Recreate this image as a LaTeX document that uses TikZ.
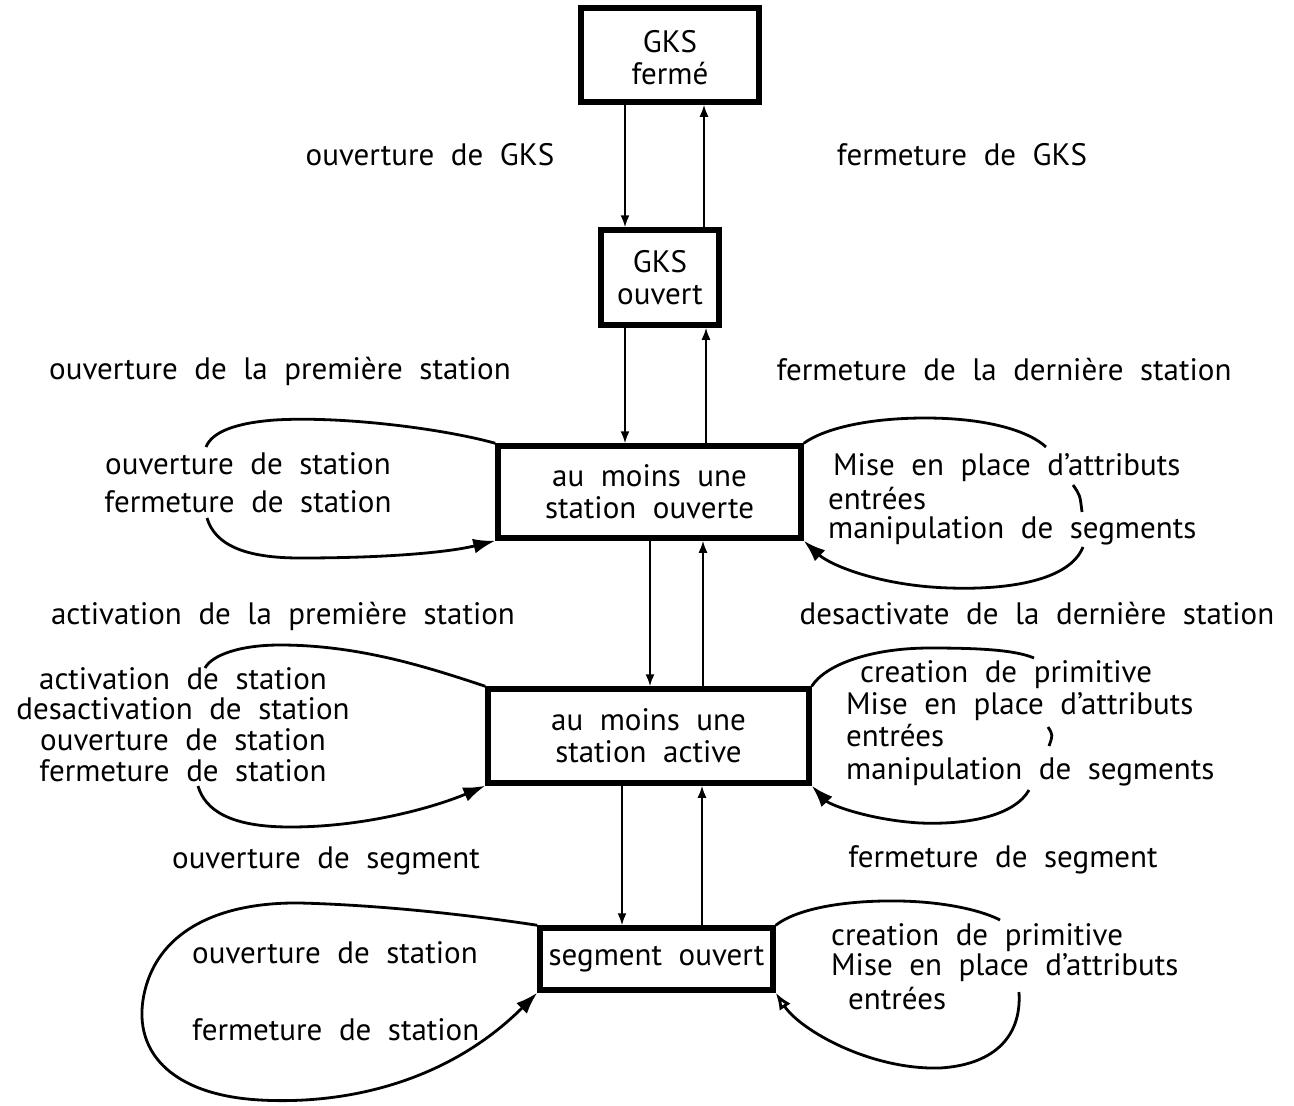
\documentclass[tikz,border=0pt]{standalone}
\usepackage{fontspec}
\setmainfont{PT Sans}[WordSpace=2.0]
\usetikzlibrary{arrows.meta}
\begin{document}
\begin{tikzpicture}[x=1pt,y=-1pt,
  lbl/.style={font=\fontsize{31}{31}\selectfont, inner sep=0pt},
  state/.style={draw, line width=5.5pt, inner sep=0pt, align=center, font=\fontsize{31}{32}\selectfont},
  tr/.style={line width=1.8pt, -{Latex[length=12pt,width=9pt]}},
  lp/.style={line width=2.8pt},
  lpa/.style={line width=2.8pt, -{Latex[length=22pt,width=15pt]}},
  lpo/.style={line width=2.8pt, -{Latex[open,length=17pt,width=13pt]}}]
\useasboundingbox (0,0) rectangle (1294,1106);

% states
\node[state, minimum width=178pt, minimum height=94pt] (b1) at (670,55) {\raisebox{-7pt}[\height][\depth]{\begin{tabular}{@{}c@{}}GKS\\ferm\'e\end{tabular}}};
\node[state, minimum width=118pt, minimum height=95pt] (b2) at (660,277.5) {GKS\\ouvert};
\node[state, minimum width=303pt, minimum height=92pt] (b3) at (649.5,492) {au moins une\\station ouverte};
\node[state, minimum width=321pt, minimum height=94pt] (b4) at (648.5,736) {au moins une\\station active};
\node[state, minimum width=233pt, minimum height=62pt] (b5) at (656.5,959) {segment ouvert};

% columns for vertical connectors
\coordinate (cA) at (625,0);
\coordinate (cB) at (704,0);
\coordinate (cC) at (625,0);
\coordinate (cD) at (706,0);
\coordinate (cE) at (650,0);
\coordinate (cF) at (703,0);
\coordinate (cG) at (622,0);
\coordinate (cH) at (702,0);

\draw[tr] (b1.south -| cA) -- (b2.north -| cA);
\draw[tr] (b2.north -| cB) -- (b1.south -| cB);
\draw[tr] (b2.south -| cC) -- (b3.north -| cC);
\draw[tr] (b3.north -| cD) -- (b2.south -| cD);
\draw[tr] (b3.south -| cE) -- (b4.north -| cE);
\draw[tr] (b4.north -| cF) -- (b3.south -| cF);
\draw[tr] (b4.south -| cG) -- (b5.north -| cG);
\draw[tr] (b5.north -| cH) -- (b4.south -| cH);

% transition labels
\node[lbl] (l1) at (430,155) {ouverture de GKS};
\node[lbl] (l2) at (962,155) {fermeture de GKS};
\node[lbl] (l3) at (280,371) {ouverture de la premi\`ere station};
\node[lbl] (l4) at (1004,370) {fermeture de la derni\`ere station};
\node[lbl] (l5) at (283,616) {activation de la premi\`ere station};
\node[lbl] (l6) at (1037,614) {desactivate de la derni\`ere station};
\node[lbl] (l7) at (326,861) {ouverture de segment};
\node[lbl] (l8) at (1003,860) {fermeture de segment};

% loop texts box3
\node[lbl] (a1) at (248,464) {ouverture de station};
\node[lbl] (a2) at (248,502) {fermeture de station};
\node[lbl, anchor=west] (a3) at (833,468) {Mise en place d'attributs};
\node[lbl, anchor=west] (a4) at (828,499) {entr\'ees};
\node[lbl, anchor=west] (a5) at (828,531) {manipulation de segments};

% loop texts box4
\node[lbl] (c1) at (183,679) {activation de station};
\node[lbl] (c2) at (183,709) {desactivation de station};
\node[lbl] (c3) at (183,740) {ouverture de station};
\node[lbl] (c4) at (183,771) {fermeture de station};
\node[lbl, anchor=west] (c5) at (860,675) {creation de primitive};
\node[lbl, anchor=west] (c6) at (846,707) {Mise en place d'attributs};
\node[lbl, anchor=west] (c7) at (846,736) {entr\'ees};
\node[lbl, anchor=west] (c8) at (846,772) {manipulation de segments};

% loop texts box5
\node[lbl, anchor=west] (e1) at (192,953) {ouverture de station};
\node[lbl, anchor=west] (e2) at (192,1030) {fermeture de station};
\node[lbl, anchor=west] (e3) at (831,938) {creation de primitive};
\node[lbl, anchor=west] (e4) at (831,968) {Mise en place d'attributs};
\node[lbl, anchor=west] (e5) at (848,999) {entr\'ees};

% loops box3
\draw[lp] (b3.north west) .. controls (440,428) and (340,416) .. (275,420) .. controls (235,423) and (212,432) .. (206,447);
\draw[lpa] (207,518) .. controls (215,545) and (245,558) .. (300,558) .. controls (390,558) and (450,552) .. (b3.south west);
\draw[lp] (b3.north east) .. controls (825,428) and (870,418) .. (925,418) .. controls (990,418) and (1030,432) .. (1046,447);
\draw[lp] (1073,485) .. controls (1080,495) .. (1082,512);
\draw[lpa] (1083,547) .. controls (1070,580) and (1010,590) .. (950,588) .. controls (880,586) and (830,565) .. (b3.south east);

% loops box4
\draw[lp] (b4.north west) .. controls (430,668) and (360,645) .. (280,645) .. controls (240,645) and (212,655) .. (205,668);
\draw[lpa] (198,786) .. controls (205,810) and (230,827) .. (290,827) .. controls (370,827) and (440,805) .. (b4.south west);
\draw[lp] (b4.north east) .. controls (825,665) and (870,648) .. (930,648) .. controls (980,648) and (1015,650) .. (1034,658);
\draw[lp] (1048,727) .. controls (1053,735) .. (1049,746);
\draw[lpa] (1029,790) .. controls (1015,815) and (970,825) .. (920,823) .. controls (870,820) and (830,805) .. (b4.south east);

% loops box5
\draw[lpa] (b5.north west) .. controls (470,915) and (380,905) .. (300,903) .. controls (220,902) and (160,930) .. (145,990) .. controls (130,1050) and (170,1095) .. (260,1100) .. controls (350,1105) and (450,1080) .. (b5.south west);
\draw[lp] (b5.north east) .. controls (795,910) and (840,900) .. (900,901) .. controls (950,902) and (985,912) .. (1000,920);
\draw[lpo] (1019,992) .. controls (1022,1040) and (990,1065) .. (940,1068) .. controls (870,1070) and (800,1030) .. (b5.south east);
\end{tikzpicture}
\end{document}
